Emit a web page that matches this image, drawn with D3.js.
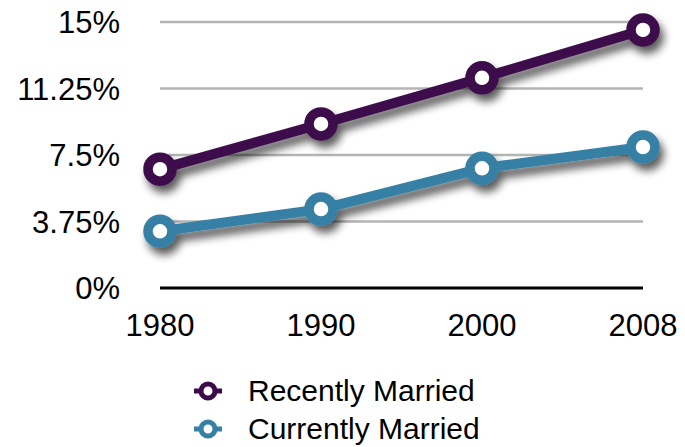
<!DOCTYPE html>
<html>
<head>
<meta charset="utf-8">
<script src="https://cdn.jsdelivr.net/npm/d3@7"></script>
<style>
  body { margin: 0; background: #fff; }
  text { font-family: "Liberation Sans", Arial, Helvetica, sans-serif; fill: #000; }
</style>
</head>
<body>
<svg width="685" height="447"></svg>
<script>
var years = ["1980", "1990", "2000", "2008"];
var recentlyMarried = [6.7, 9.25, 11.85, 14.55];
var currentlyMarried = [3.2, 4.45, 6.75, 7.95];
var yTicks = [0, 3.75, 7.5, 11.25, 15];
var yTickLabels = ["0%", "3.75%", "7.5%", "11.25%", "15%"];

var series = [
  { name: "Recently Married", values: recentlyMarried, color: "#3d0b4b" },
  { name: "Currently Married", values: currentlyMarried, color: "#3680a4" }
];

var svg = d3.select("svg");

var x = d3.scalePoint().domain(years).range([160, 643]);
var y = d3.scaleLinear().domain([0, 15]).range([288, 22]);

var defs = svg.append("defs");
var shadow = defs.append("filter")
    .attr("id", "shadow")
    .attr("x", "-20%").attr("y", "-40%")
    .attr("width", "140%").attr("height", "180%");
shadow.append("feGaussianBlur").attr("in", "SourceAlpha").attr("stdDeviation", 4).attr("result", "blur");
shadow.append("feOffset").attr("in", "blur").attr("dx", 4).attr("dy", 7).attr("result", "off");
shadow.append("feComponentTransfer").attr("in", "off").attr("result", "soft")
  .append("feFuncA").attr("type", "linear").attr("slope", 0.65);
var merge = shadow.append("feMerge");
merge.append("feMergeNode").attr("in", "soft");
merge.append("feMergeNode").attr("in", "SourceGraphic");

// gridlines
svg.append("g")
    .selectAll("line")
    .data(yTicks.slice(1))
    .enter().append("line")
    .attr("x1", x.range()[0])
    .attr("x2", x.range()[1])
    .attr("y1", function(d) { return y(d); })
    .attr("y2", function(d) { return y(d); })
    .attr("stroke", "#b4b4b4")
    .attr("stroke-width", 2.5);

// baseline
svg.append("line")
    .attr("x1", x.range()[0])
    .attr("x2", x.range()[1])
    .attr("y1", y(0))
    .attr("y2", y(0))
    .attr("stroke", "#000")
    .attr("stroke-width", 3);

// y labels
svg.append("g")
    .selectAll("text")
    .data(yTicks)
    .enter().append("text")
    .attr("x", 120)
    .attr("y", function(d) { return y(d); })
    .attr("dy", "0.36em")
    .attr("text-anchor", "end")
    .style("font-size", "31px")
    .text(function(d, i) { return yTickLabels[i]; });

// x labels
svg.append("g")
    .selectAll("text")
    .data(years)
    .enter().append("text")
    .attr("x", function(d) { return x(d); })
    .attr("y", 336)
    .attr("text-anchor", "middle")
    .style("font-size", "31px")
    .text(function(d) { return d; });

var line = d3.line()
    .x(function(d, i) { return x(years[i]); })
    .y(function(d) { return y(d); });

var groups = svg.append("g")
    .selectAll("g")
    .data(series)
    .enter().append("g")
    .attr("filter", "url(#shadow)");

groups.append("path")
    .attr("d", function(d) { return line(d.values); })
    .attr("fill", "none")
    .attr("stroke", function(d) { return d.color; })
    .attr("stroke-width", 10)
    .attr("stroke-linejoin", "round");

groups.selectAll("circle")
    .data(function(d) { return d.values.map(function(v) { return { v: v, color: d.color }; }); })
    .enter().append("circle")
    .attr("cx", function(d, i) { return x(years[i]); })
    .attr("cy", function(d) { return y(d.v); })
    .attr("r", 12)
    .attr("fill", "#fff")
    .attr("stroke", function(d) { return d.color; })
    .attr("stroke-width", 9.5);

// legend
var legend = svg.append("g")
    .selectAll("g")
    .data(series)
    .enter().append("g")
    .attr("transform", function(d, i) { return "translate(208," + (391 + i * 38) + ")"; });

legend.append("line")
    .attr("x1", -14).attr("x2", 14)
    .attr("stroke", function(d) { return d.color; })
    .attr("stroke-width", 5);

legend.append("circle")
    .attr("r", 7)
    .attr("fill", "#fff")
    .attr("stroke", function(d) { return d.color; })
    .attr("stroke-width", 5);

legend.append("text")
    .attr("x", 40)
    .attr("dy", "0.34em")
    .style("font-size", "30px")
    .text(function(d) { return d.name; });
</script>
</body>
</html>
